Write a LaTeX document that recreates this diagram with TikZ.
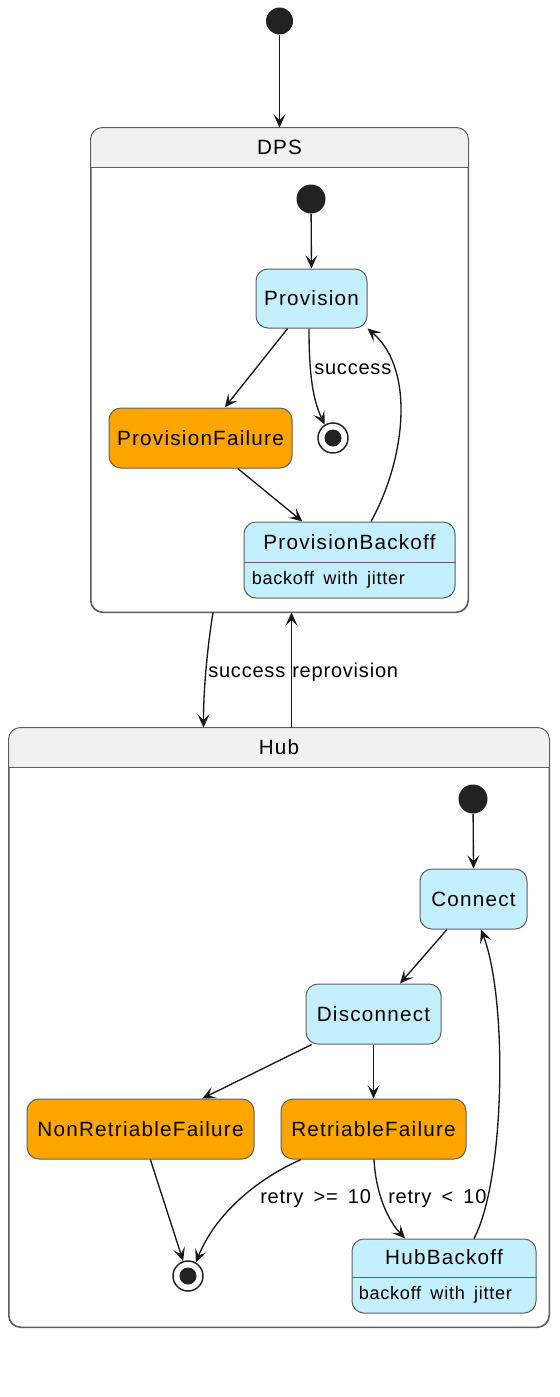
\documentclass[tikz,border=0pt]{standalone}
\usepackage{fontspec}
\setmainfont{Liberation Sans}
\newfontfamily\stf{Liberation Sans}[LetterSpace=6]
\newfontfamily\lbf{Liberation Sans}[LetterSpace=4,WordSpace=1.6]
\usetikzlibrary{arrows.meta,calc}
\definecolor{stblue}{HTML}{C4EFFE}
\definecolor{storange}{HTML}{FFA500}
\definecolor{hdrgray}{HTML}{F1F1F1}
\definecolor{bord}{HTML}{5E5E5E}
\definecolor{ink}{HTML}{181818}
\definecolor{dotc}{HTML}{222222}
\tikzset{
  sz/.style 2 args={minimum width=#1*0.75pt, minimum height=#2*0.75pt},
  st/.style={draw=bord, line width=0.75pt, rounded corners=9pt, inner sep=0pt, font=\stf\fontsize{15.5}{18}\selectfont, text=black},
  bluest/.style={st, fill=stblue},
  orangest/.style={st, fill=storange},
  compbox/.style={draw=bord, fill=white, line width=0.75pt, rounded corners=9pt, inner sep=0pt},
  ttl/.style={inner sep=0pt, font=\stf\fontsize{15.5}{18}\selectfont, text=black},
  desc/.style={inner sep=0pt, anchor=west, font=\lbf\fontsize{13.6}{16}\selectfont, text=black},
  lbl/.style={inner sep=0pt, anchor=west, font=\lbf\fontsize{15}{18}\selectfont, text=black},
  initdot/.style={circle, fill=dotc, minimum size=20.25pt, inner sep=0pt},
  finring/.style={circle, draw=dotc, line width=1.1pt, fill=white, minimum size=22.5pt, inner sep=0pt},
  finin/.style={circle, fill=dotc, minimum size=12.75pt, inner sep=0pt},
  tr/.style={draw=ink, line width=1pt, -{Stealth[length=10pt,width=9pt,inset=4.5pt]}}
}
\begin{document}
\begin{tikzpicture}[x=0.75pt,y=-0.75pt]
\useasboundingbox (0,0) rectangle (560,1397);

% ---------- DPS composite ----------
\node[compbox, sz={377}{484}] (dps) at (279.5,370) {};
\begin{scope}
  \clip[rounded corners=9pt] (dps.south west) rectangle (dps.north east);
  \fill[hdrgray] (dps.north west) rectangle ($(dps.north east)+(0,40)$);
\end{scope}
\draw[bord, line width=0.75pt, rounded corners=9pt] (dps.south west) rectangle (dps.north east);
\draw[bord, line width=0.75pt] ($(dps.north west)+(0,40)$) -- ($(dps.north east)+(0,40)$);
\node[ttl] (dpst) at ($(dps.north)+(0,20)$) {DPS};

% ---------- Hub composite ----------
\node[compbox, sz={540}{599}] (hub) at (279,1027.5) {};
\begin{scope}
  \clip[rounded corners=9pt] (hub.south west) rectangle (hub.north east);
  \fill[hdrgray] (hub.north west) rectangle ($(hub.north east)+(0,40)$);
\end{scope}
\draw[bord, line width=0.75pt, rounded corners=9pt] (hub.south west) rectangle (hub.north east);
\draw[bord, line width=0.75pt] ($(hub.north west)+(0,40)$) -- ($(hub.north east)+(0,40)$);
\node[ttl] (hubt) at ($(hub.north)+(0,20)$) {Hub};

% ---------- top ----------
\node[initdot] (init0) at (279.5,21) {};
\draw[tr] (init0) -- (dps.north);

% ---------- DPS states ----------
\node[initdot, minimum size=21.75pt] (dinit) at (311,199) {};
\node[bluest, sz={111}{59}] (prov) at (311.5,298.5) {Provision};
\node[orangest, sz={183}{60}] (pfail) at (200.5,438) {ProvisionFailure};
\node[finring] (dfin) at (333,438) {};
\node[finin] (dfinin) at (dfin) {};
\node[bluest, sz={211}{76}] (pback) at (349.5,560) {};
\draw[bord, line width=0.75pt] ($(pback.north west)+(0,41)$) -- ($(pback.north east)+(0,41)$);
\node[ttl] (pbackt) at ($(pback.north)+(0,21)$) {ProvisionBackoff};
\node[desc] (pbackd) at ($(pback.north west)+(8,58)$) {backoff with jitter};

\draw[tr] (dinit) -- (prov.north);
\draw[tr] (prov) -- (pfail);
\draw[tr] ($(prov.south)+(-2.5,0)$) .. controls (309,375) and (313,400) .. (dfin.122);
\node[lbl] (lsucc1) at (314,369) {success};
\draw[tr] (pfail) -- (pback);
\draw[tr] ($(pback.north)+(21.5,0)$) .. controls (405,460) and (416,370) .. ($(prov.south east)+(0,0)$);

% ---------- between composites ----------
\draw[tr] ($(dps.south)+(-66.5,0)$) .. controls (207,650) and (203.5,690) .. ($(hub.north)+(-75.5,0)$);
\node[lbl] (lsucc2) at (208,672) {success};
\draw[tr] ($(hub.north)+(12.5,0)$) -- ($(dps.south)+(12,0)$);
\node[lbl] (lrepr) at (292,672) {reprovision};

% ---------- Hub states ----------
\node[initdot, minimum size=21.75pt] (hinit) at (473,799) {};
\node[bluest, sz={107}{60}] (conn) at (473.5,899) {Connect};
\node[bluest, sz={135}{60}] (disc) at (373.5,1014) {Disconnect};
\node[orangest, sz={227}{60}] (nrf) at (140.5,1129) {NonRetriableFailure};
\node[orangest, sz={185}{60}] (rf) at (373.5,1129) {RetriableFailure};
\node[finring] (hfin) at (188,1276) {};
\node[finin] (hfinin) at (hfin) {};
\node[bluest, sz={184}{74}] (hback) at (444,1276) {};
\draw[bord, line width=0.75pt] ($(hback.north west)+(0,39)$) -- ($(hback.north east)+(0,39)$);
\node[ttl] (hbackt) at ($(hback.north)+(0,19)$) {HubBackoff};
\node[desc] (hbackd) at ($(hback.north west)+(7,56)$) {backoff with jitter};

\draw[tr] (hinit) -- (conn.north);
\draw[tr] (conn) -- (disc);
\draw[tr] (disc) -- (nrf);
\draw[tr] (disc) -- (rf);
\draw[tr] (nrf) -- (hfin);
\draw[tr] ($(rf.south)+(-72.5,0)$) .. controls (255,1180) and (215,1215) .. (hfin.60);
\node[lbl] (lge) at (260,1199) {retry >= 10};
\draw[tr] ($(rf.south)+(0.5,0)$) .. controls (376,1195) and (388,1220) .. ($(hback.north)+(-39,0)$);
\node[lbl] (llt) at (388,1199) {retry < 10};
\draw[tr] ($(hback.north)+(30,0)$) .. controls (505,1180) and (508,1000) .. ($(conn.south)+(7.5,0)$);
\end{tikzpicture}
\end{document}
